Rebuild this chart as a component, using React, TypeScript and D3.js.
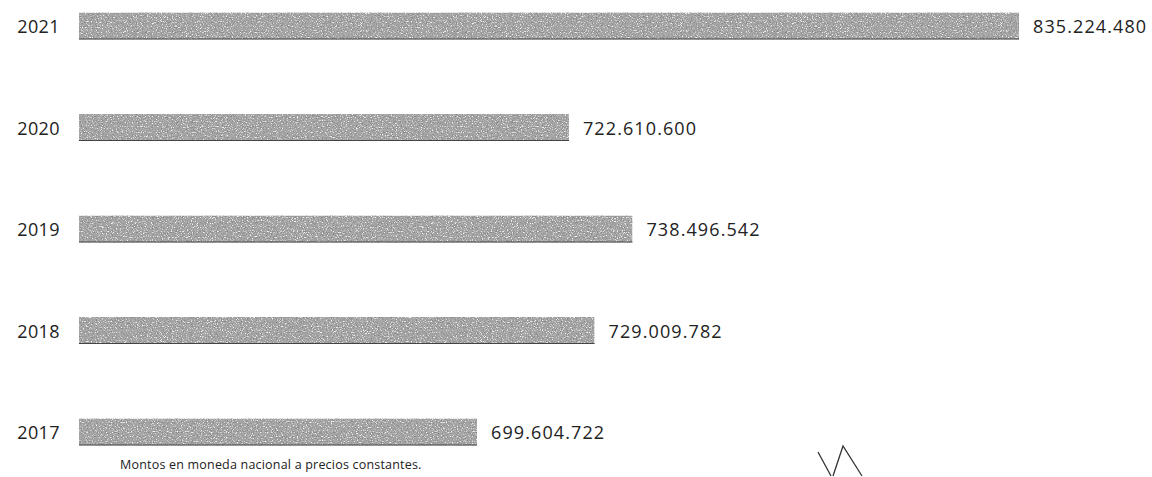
import React from "react";
import * as d3 from "d3";

const years: string[] = ["2021", "2020", "2019", "2018", "2017"];
const amounts: number[] = [835224480, 722610600, 738496542, 729009782, 699604722];
const axisStart = 600000000;
const footnote = "Montos en moneda nacional a precios constantes.";

const W = 1152;
const H = 477;

const fmt = (v: number) => d3.format(",")(v).replace(/,/g, ".");

export default function App() {
  const x = d3
    .scaleLinear()
    .domain([axisStart, d3.max(amounts) as number])
    .range([79, 1019]);
  const y = d3.scalePoint<string>().domain(years).range([26, 432]);
  const barH = 27;

  return (
    <svg
      width={W}
      height={H}
      style={{ position: "absolute", left: 0, top: 0, background: "#fff" }}
      fontFamily="'Open Sans', sans-serif"
    >
      <defs>
        <filter id="grain" x="0" y="0" width="100%" height="100%">
          <feTurbulence type="fractalNoise" baseFrequency="0.8" numOctaves="2" seed="7" result="n" />
          <feColorMatrix
            in="n"
            type="matrix"
            values="0 0 0 0 0.25  0 0 0 0 0.25  0 0 0 0 0.25  5 0 0 0 -2.6"
            result="dark"
          />
          <feColorMatrix
            in="n"
            type="matrix"
            values="0 0 0 0 0.92  0 0 0 0 0.92  0 0 0 0 0.92  -5 0 0 0 2.1"
            result="light"
          />
          <feMerge result="m">
            <feMergeNode in="SourceGraphic" />
            <feMergeNode in="dark" />
            <feMergeNode in="light" />
          </feMerge>
          <feComposite in="m" in2="SourceGraphic" operator="in" />
        </filter>
      </defs>
      <rect width={W} height={H} fill="#fff" />
      {years.map((yr, i) => {
        const cy = y(yr) as number;
        const x1 = x(amounts[i]);
        return (
          <g key={yr}>
            <text
              x={60}
              y={cy}
              textAnchor="end"
              dominantBaseline="central"
              fontSize={18}
              letterSpacing={0.4}
              fill="#222"
            >
              {yr}
            </text>
            <rect
              x={x(axisStart)}
              y={cy - barH / 2}
              width={x1 - x(axisStart)}
              height={barH}
              fill="#a6a6a6"
              filter="url(#grain)"
            />
            <line
              x1={x(axisStart)}
              x2={x1}
              y1={cy + barH / 2 - 0.5}
              y2={cy + barH / 2 - 0.5}
              stroke="#444"
              strokeWidth={1}
            />
            <text
              x={x1 + 14}
              y={cy}
              dominantBaseline="central"
              fontSize={18}
              letterSpacing={1.1}
              fill="#222"
            >
              {fmt(amounts[i])}
            </text>
          </g>
        );
      })}
      <text x={120} y={469} fontSize={12.5} fill="#222" letterSpacing={0.2}>
        {footnote}
      </text>
      <path
        d="M818,452 L831,476 M833,476 L843,446 L862,476"
        fill="none"
        stroke="#333"
        strokeWidth={1.3}
      />
    </svg>
  );
}
